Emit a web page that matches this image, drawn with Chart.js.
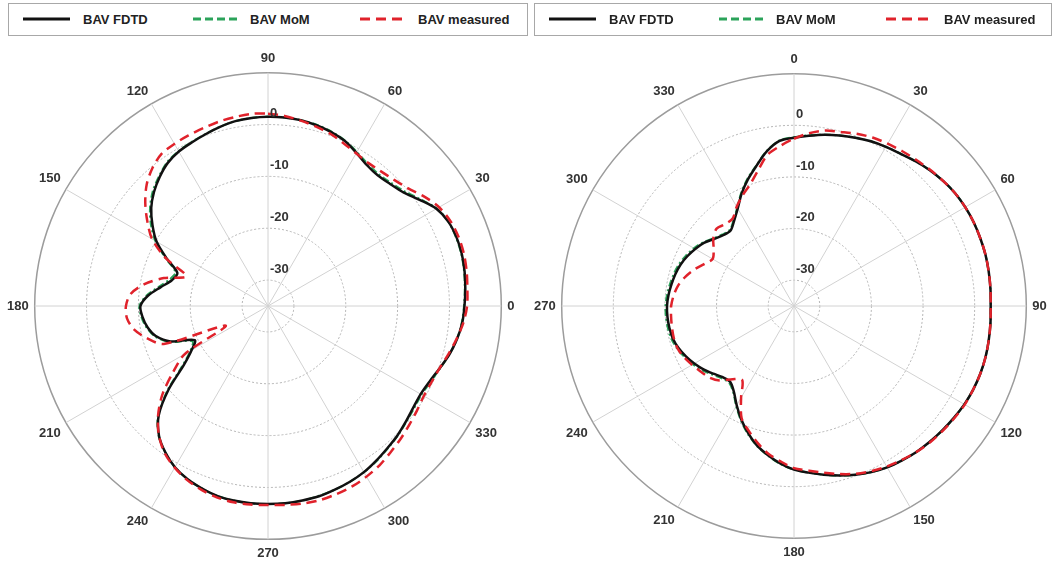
<!DOCTYPE html>
<html>
<head>
<meta charset="utf-8">
<script src="https://cdn.jsdelivr.net/npm/chart.js@4.4.0/dist/chart.umd.min.js"></script>
<style>
  body { margin: 0; background: #fff; }
  #page { position: relative; width: 1053px; height: 571px; overflow: hidden; }
  canvas.plot { position: absolute; top: 0; }
  .legend { position: absolute; top: 3px; height: 33px; box-sizing: border-box; border: 1px solid #a8a8a8; background: #fff; z-index: 2; }
  .legend .sample { position: absolute; top: 12px; }
  .legend .txt { position: absolute; top: 0; font: bold 13px/31px "Liberation Sans", Arial, sans-serif; color: #222; white-space: nowrap; }
</style>
</head>
<body>
<div id="page">
  <canvas id="plotA" class="plot" width="527" height="571" style="left:0"></canvas>
  <canvas id="plotB" class="plot" width="526" height="571" style="left:527px"></canvas>
  <div id="legA" class="legend" style="left:8px;width:520px"></div>
  <div id="legB" class="legend" style="left:534px;width:518px"></div>
</div>
<script>
'use strict'

/* names + ring ticks */
const seriesNames = ['BAV FDTD', 'BAV MoM', 'BAV measured'];
const ringTicks = [0, -10, -20, -30];

/* angle grid, 5 deg step (0..355) */
const angles = [];
for (let a = 0; a < 360; a += 5) angles.push(a);

/* left pattern (dB), index = angle/5, angle counted ccw from 0 at right */
const leftFdtd = [
  2.9, 3.2, 3.5, 3.7, 3.7, 3.4, 2.5, 0.7, -0.9, -1.7, -2.1, -1.8,
  -0.9, 0.1, 0.7, 1.1, 1.4, 1.5, 1.5, 1.4, 1.2, 0.75, 0.25, -0.2,
  -0.6, -1.3, -2.5, -3.9, -5.6, -7.8, -10.2, -13.5, -16.4, -15.8, -14.0, -11.8,
  -10.4, -10.7, -11.4, -12.6, -15.0, -19.4, -18.0, -15.2, -10.0, -5.2, -2.3, -0.5,
  0.9, 1.8, 2.4, 2.9, 3.1, 3.2, 3.2, 3.2, 3.1, 3.0, 2.7, 2.4,
  2.0, 1.4, 0.8, 0.3, -0.3, -0.8, -1.0, -0.6, 0.2, 1.2, 2.0, 2.6
];
const leftMom = [
  2.8, 3.1, 3.4, 3.6, 3.6, 3.4, 2.6, 0.9, -0.6, -1.4, -1.8, -1.5,
  -0.7, 0.2, 0.8, 1.2, 1.4, 1.5, 1.5, 1.4, 1.2, 0.8, 0.3, -0.1,
  -0.5, -1.1, -2.3, -3.6, -5.3, -7.4, -9.9, -13.2, -16.0, -15.3, -13.6, -11.5,
  -10.2, -10.5, -11.2, -12.4, -14.7, -18.9, -17.7, -14.8, -9.7, -5.0, -2.2, -0.5,
  0.9, 1.8, 2.4, 2.9, 3.1, 3.2, 3.2, 3.2, 3.1, 2.9, 2.7, 2.4,
  2.0, 1.5, 0.9, 0.4, -0.2, -0.6, -0.8, -0.4, 0.3, 1.2, 2.0, 2.5
];
const leftMeas = [
  3.4, 3.6, 3.9, 4.1, 4.1, 3.8, 3.1, 1.8, 0.3, -0.6, -1.1, -1.3,
  -1.0, -0.4, 0.3, 0.8, 1.3, 1.8, 2.1, 2.2, 2.0, 1.8, 1.5, 1.3,
  1.1, 0.8, -0.3, -1.9, -4.1, -6.6, -9.2, -13.3, -18.2, -14.2, -10.8, -8.4,
  -7.6, -7.7, -8.8, -10.9, -13.6, -26.0, -16.5, -12.6, -8.4, -5.0, -2.3, -0.3,
  1.0, 2.0, 2.7, 3.2, 3.45, 3.45, 3.4, 3.5, 3.7, 3.75, 3.6, 3.4,
  3.0, 2.5, 1.8, 1.2, 0.6, 0.1, -0.3, -0.2, 0.2, 1.0, 1.9, 2.8
];

/* right pattern (dB), index = angle/5, angle counted cw from 0 at top */
const rightFdtd = [
  -2.4, -1.9, -1.3, -0.8, -0.3, 0.2, 0.6, 1.0, 1.6, 2.2, 2.7, 3.1,
  3.3, 3.4, 3.4, 3.4, 3.3, 3.2, 3.1, 3.2, 3.3, 3.4, 3.4, 3.3,
  3.1, 2.8, 2.5, 2.2, 1.9, 1.5, 1.1, 0.5, -0.2, -1.0, -1.8, -2.6,
  -3.3, -4.4, -5.7, -7.1, -8.9, -10.8, -12.8, -14.7, -15.8, -15.5, -14.6, -13.6,
  -12.7, -11.9, -11.2, -10.7, -10.5, -10.4, -10.4, -10.6, -10.9, -11.2, -11.6, -12.2,
  -12.9, -13.7, -14.8, -15.6, -15.9, -14.8, -13.2, -11.0, -8.9, -6.9, -4.6, -2.9
];
const rightMom = [
  -2.3, -1.8, -1.3, -0.8, -0.3, 0.2, 0.6, 1.0, 1.6, 2.2, 2.7, 3.1,
  3.3, 3.4, 3.4, 3.4, 3.3, 3.2, 3.1, 3.2, 3.3, 3.4, 3.4, 3.3,
  3.1, 2.8, 2.5, 2.2, 1.9, 1.5, 1.1, 0.5, -0.2, -1.0, -1.8, -2.6,
  -3.3, -4.3, -5.6, -7.0, -8.7, -10.6, -12.6, -14.5, -15.5, -15.2, -14.3, -13.3,
  -12.4, -11.6, -10.9, -10.4, -10.2, -10.1, -10.1, -10.3, -10.6, -10.9, -11.3, -11.9,
  -12.6, -13.5, -14.6, -15.4, -15.7, -14.6, -13.0, -10.8, -8.7, -6.8, -4.5, -2.8
];
const rightMeas = [
  -2.6, -1.4, -0.5, -0.1, 0.5, 1.0, 1.3, 1.6, 1.9, 2.3, 2.7, 3.1,
  3.3, 3.4, 3.4, 3.4, 3.3, 3.2, 3.1, 3.2, 3.3, 3.4, 3.4, 3.3,
  3.2, 2.9, 2.6, 2.3, 1.9, 1.4, 0.9, 0.3, -0.4, -1.3, -2.2, -3.0,
  -3.6, -4.8, -6.0, -7.6, -9.3, -11.0, -14.5, -17.5, -16.5, -14.6, -13.5, -12.9,
  -12.2, -11.5, -11.0, -10.9, -11.0, -11.1, -11.2, -11.6, -12.2, -13.2, -14.4, -15.8,
  -16.8, -16.0, -14.6, -13.8, -14.3, -14.3, -12.8, -11.4, -10.0, -7.9, -5.3, -3.9
];

const FONT = '"Liberation Sans", Arial, sans-serif';
const legendSampleX = [14, 184, 351];
const legendTextX = [74, 241, 409];

/* ring labels "0 -10 -20 -30" sit just above each dotted ring */
const ringLabelPlugin = {
  id: 'ringLabels',
  afterDatasetsDraw(chart) {
    const r = chart.scales.r;
    const ctx = chart.ctx;
    ctx.save();
    ctx.font = 'bold 13px ' + FONT;
    ctx.fillStyle = '#333';
    ctx.textAlign = 'left';
    ctx.textBaseline = 'middle';
    ringTicks.forEach(v => {
      const d = r.getDistanceFromCenterForValue(v);
      ctx.fillText(String(v), r.xCenter + 2, r.yCenter - d - 11);
    });
    ctx.restore();
  }
};

function makeChart(id, order, fdtd, mom, meas, pad) {
  // order: list of angles in drawing order (clockwise from top)
  const idx = order.map(a => a / 5);
  const labels = order.map(a => String(a));
  return new Chart(document.getElementById(id), {
    type: 'radar',
    data: {
      labels: labels,
      datasets: [
        { label: seriesNames[0], data: idx.map(k => fdtd[k]), borderColor: '#111111', borderWidth: 2.5, order: 1 },
        { label: seriesNames[1], data: idx.map(k => mom[k]), borderColor: '#2ba35a', borderWidth: 2, borderDash: [7, 3, 2, 3], legendDash: [8, 4], order: 2 },
        { label: seriesNames[2], data: idx.map(k => meas[k]), borderColor: '#e0222b', borderWidth: 2.5, borderDash: [10, 6], order: 0 }
      ]
    },
    options: {
      responsive: false,
      animation: false,
      layout: { padding: pad },
      elements: {
        line: { tension: 0.3, fill: false },
        point: { radius: 0, hoverRadius: 0 }
      },
      plugins: { legend: { display: false }, tooltip: { enabled: false } },
      scales: {
        r: {
          min: -35,
          max: 10,
          startAngle: 0,
          ticks: { display: false, stepSize: 10 },
          grid: {
            circular: true,
            color: c => c.tick && c.tick.value === 10 ? '#9c9c9c' : '#b4b4b4',
            lineWidth: c => c.tick && c.tick.value === 10 ? 1.5 : 1
          },
          border: { dash: c => c.tick && c.tick.value === 10 ? [] : [2, 2] },
          angleLines: {
            color: c => c.index % 6 === 0 ? '#d2d2d2' : 'rgba(0,0,0,0)',
            lineWidth: c => c.index % 6 === 0 ? 1 : 0
          },
          pointLabels: {
            callback: (lbl, i) => i % 6 === 0 ? lbl : '',
            font: { family: FONT, size: 13, weight: 'bold' },
            color: '#333',
            padding: 6
          }
        }
      }
    },
    plugins: [ringLabelPlugin]
  });
}

/* html legend built from the chart's datasets */
function makeLegend(boxId, chart) {
  const box = document.getElementById(boxId);
  chart.data.datasets.forEach((ds, i) => {
    const c = document.createElement('canvas');
    c.width = 47; c.height = 6;
    c.className = 'sample';
    c.style.left = legendSampleX[i] + 'px';
    const g = c.getContext('2d');
    g.strokeStyle = ds.borderColor;
    g.lineWidth = 3;
    g.setLineDash(ds.legendDash || ds.borderDash || []);
    g.beginPath(); g.moveTo(0, 3); g.lineTo(47, 3); g.stroke();
    box.appendChild(c);
    const t = document.createElement('span');
    t.className = 'txt';
    t.style.left = legendTextX[i] + 'px';
    t.textContent = ds.label;
    box.appendChild(t);
  });
}

// left plot: 90 on top, angles decreasing clockwise
const orderLeft = angles.map(a => (90 - a + 360) % 360);
// right plot: 0 on top, angles increasing clockwise
const orderRight = angles.slice();

const chartA = makeChart('plotA', orderLeft, leftFdtd, leftMom, leftMeas, { left: 0, right: 5, top: 43, bottom: 0 });
const chartB = makeChart('plotB', orderRight, rightFdtd, rightMom, rightMeas, { left: 3, right: 2, top: 43, bottom: 0 });

makeLegend('legA', chartA);
makeLegend('legB', chartB);
</script>
</body>
</html>
